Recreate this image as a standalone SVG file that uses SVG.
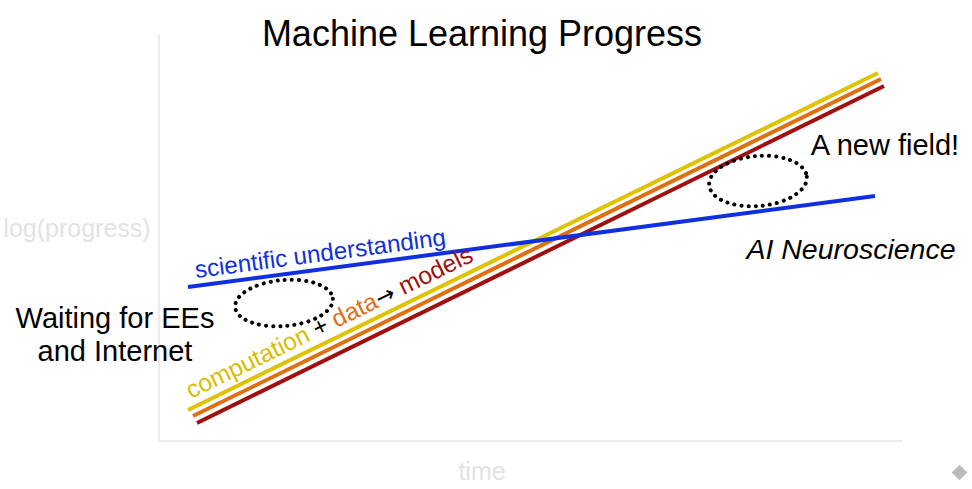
<svg xmlns="http://www.w3.org/2000/svg" width="972" height="489" viewBox="0 0 972 489">
<style>
text{font-family:"Liberation Sans",Arial,sans-serif}
.el{fill:none;stroke:#000;stroke-width:4;stroke-dasharray:0.1 7;stroke-linecap:round}
.ax{stroke:#e6e6e6;stroke-width:1.5}
</style>
<rect width="972" height="489" fill="#fff"/>
<g id="axes">
<line class="ax" x1="159" y1="35" x2="159" y2="441"/>
<line class="ax" x1="159" y1="441" x2="903" y2="441"/>
<text x="77" y="237" font-size="25" fill="#e3e3e3" text-anchor="middle">log(progress)</text>
<text x="482" y="480" font-size="25" fill="#e3e3e3" text-anchor="middle">time</text>
</g>
<text id="title" x="482" y="46" font-size="36" text-anchor="middle">Machine Learning Progress</text>
<g id="connectors">
<line x1="188" y1="410" x2="878" y2="73" stroke="#e0c300" stroke-width="4"/>
<line x1="193" y1="416" x2="881" y2="79" stroke="#e06f10" stroke-width="4"/>
<line x1="197" y1="423" x2="884" y2="86" stroke="#a01010" stroke-width="4"/>
<line x1="188" y1="287" x2="875" y2="196" stroke="#1030e0" stroke-width="4"/>
</g>
<g id="labels">
<text transform="translate(196,278) rotate(-7.5)" font-size="24.2" fill="#1030e0">scientific understanding</text>
<text transform="translate(191,399) rotate(-26)" font-size="24.6"><tspan fill="#d9bd00">computation</tspan><tspan fill="#000"> + </tspan><tspan fill="#e06f10">data</tspan><tspan fill="#000" font-size="23" font-family="DejaVu Sans">→ </tspan><tspan fill="#a01010">models</tspan></text>
</g>
<g id="ellipses">
<ellipse class="el" cx="284" cy="303" rx="49" ry="23" transform="rotate(-5 284 303)"/>
<ellipse class="el" cx="758" cy="181" rx="49" ry="25" transform="rotate(-5 758 181)"/>
</g>
<text x="115" y="328" font-size="29" text-anchor="middle">Waiting for EEs</text>
<text x="115" y="361" font-size="29" text-anchor="middle">and Internet</text>
<text x="885" y="155" font-size="29" text-anchor="middle">A new field!</text>
<text x="851" y="259" font-size="28.5" text-anchor="middle" font-style="italic">AI Neuroscience</text>
<rect x="954" y="467" width="11" height="11" fill="#bbb" transform="rotate(45 959.5 472.5)"/>
</svg>
